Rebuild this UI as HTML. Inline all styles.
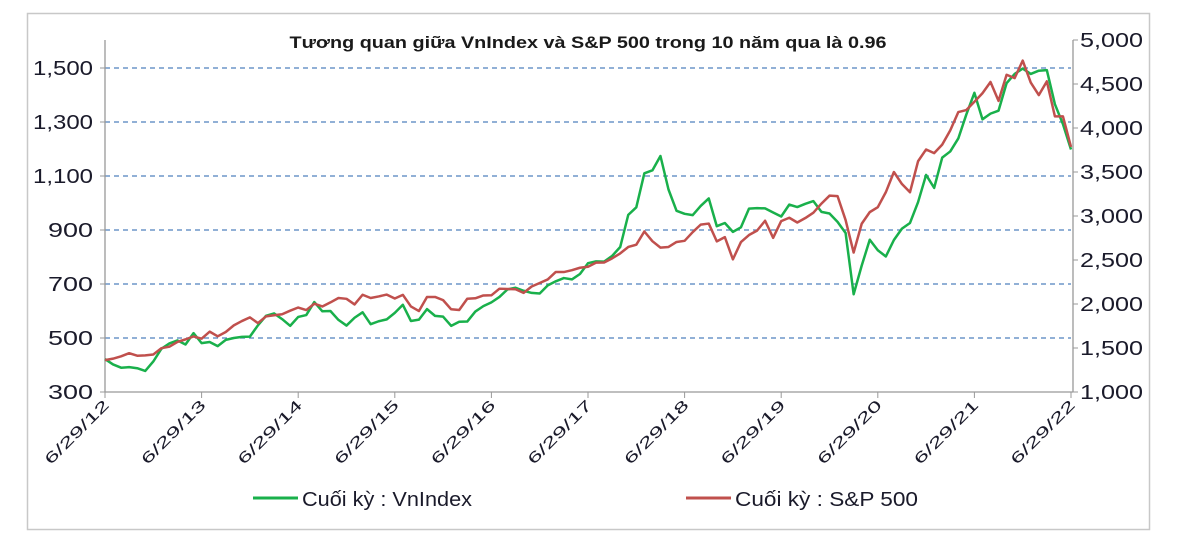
<!DOCTYPE html>
<html><head><meta charset="utf-8"><style>
body{margin:0;background:#fff;width:1200px;height:539px;overflow:hidden}
svg{display:block;font-family:"Liberation Sans",Arial,sans-serif}
</style></head><body>
<svg id="chart" width="1200" height="539" viewBox="0 0 1200 539">
<rect x="27.5" y="13.5" width="1122" height="516" fill="#fff" stroke="#c8c8c8" stroke-width="1.5"/>
<text x="588" y="48" text-anchor="middle" font-size="17" font-weight="bold" fill="#1a1a1a" textLength="597" lengthAdjust="spacingAndGlyphs">Tương quan giữa VnIndex và S&amp;P 500 trong 10 năm qua là 0.96</text>
<g id="grid"></g><g id="axes"></g><g id="series"></g>
<g>
<line x1="253" y1="498" x2="298" y2="498" stroke="#19b04b" stroke-width="3"/>
<text x="302" y="506" font-size="20" fill="#1a1a2a" textLength="170" lengthAdjust="spacingAndGlyphs">Cuối  kỳ : VnIndex</text>
<line x1="686" y1="498" x2="731" y2="498" stroke="#c0504d" stroke-width="3"/>
<text x="735" y="506" font-size="20" fill="#1a1a2a" textLength="183" lengthAdjust="spacingAndGlyphs">Cuối  kỳ : S&amp;P 500</text>
</g>
</svg>
<script>
const xLabels=["6/29/12","6/29/13","6/29/14","6/29/15","6/29/16","6/29/17","6/29/18","6/29/19","6/29/20","6/29/21","6/29/22"];
const leftTicks=[300,500,700,900,1100,1300,1500];
const rightTicks=[1000,1500,2000,2500,3000,3500,4000,4500,5000];
const vnindex=[422,402,390,392,388,378,413,
460,480,491,476,518,481,485,470,493,500,504,505,
547,582,591,570,545,578,585,633,599,600,567,546,
575,595,551,562,569,593,623,563,568,607,582,579,
545,560,561,598,618,632,652,680,686,675,667,665,
695,710,722,717,737,777,784,783,804,837,956,984,
1110,1121,1174,1050,971,960,955,989,1017,914,926,893,
910,979,981,980,965,950,994,985,997,1007,967,961,
930,889,662,768,864,825,802,863,905,926,1003,1104,
1056,1168,1191,1239,1328,1408,1310,1331,1342,1444,1478,1498,
1478,1490,1492,1366,1292,1198];
const sp500=[1362,1379,1406,1441,1412,1416,1426,
1498,1515,1569,1598,1631,1606,1686,1633,1682,1757,1806,1848,
1783,1859,1872,1884,1924,1960,1931,2003,1972,2018,2068,2059,
1995,2105,2068,2086,2107,2063,2104,1972,1920,2079,2080,2044,
1940,1932,2060,2065,2097,2099,2174,2171,2168,2126,2199,2239,
2279,2364,2363,2384,2412,2423,2470,2472,2519,2575,2648,2674,
2824,2714,2641,2648,2705,2718,2816,2902,2914,2712,2760,2507,
2704,2784,2834,2946,2752,2942,2980,2926,2977,3038,3141,3231,
3226,2954,2585,2912,3044,3100,3271,3500,3363,3270,3622,3756,
3714,3811,3973,4181,4204,4298,4395,4523,4308,4605,4567,4766,
4516,4374,4530,4132,4132,3785];
const NS="http://www.w3.org/2000/svg";
const X0=105,X1=1071,YB=392,YT=40;
const x=i=>X0+i/120*(X1-X0);
const yL=v=>YB-(v-300)*(YB-68)/1200;
const yR=v=>YB-(v-1000)*(YB-YT)/4000;
function mk(tag,attrs,parent){const e=document.createElementNS(NS,tag);for(const k in attrs)e.setAttribute(k,attrs[k]);parent.appendChild(e);return e;}
const grid=document.getElementById('grid'),axes=document.getElementById('axes'),ser=document.getElementById('series');
leftTicks.forEach(v=>{
  if(v>300){const g=mk('line',{x1:X0,x2:X1,y1:yL(v),y2:yL(v),stroke:'#4f81bd','stroke-width':1.3,'stroke-dasharray':'5,4'},grid);
  
  }
  const t=mk('line',{x1:X0-5,x2:X0,y1:yL(v),y2:yL(v),stroke:'#999'},axes);
  
  
  const s=v.toLocaleString('en-US');
  const l=mk('text',{x:93,y:yL(v)+7,'text-anchor':'end','font-size':20,fill:'#1a1a2a',textLength:s.length>3?60:45,lengthAdjust:'spacingAndGlyphs'},axes);
  
  
  l.textContent=s;
});
rightTicks.forEach(v=>{
  const t=mk('line',{x1:X1+2,x2:X1+7,y1:yR(v),y2:yR(v),stroke:'#999'},axes);
  
  
  const l=mk('text',{x:1080,y:yR(v)+7,'text-anchor':'start','font-size':20,fill:'#1a1a2a',textLength:63,lengthAdjust:'spacingAndGlyphs'},axes);
  
  
  l.textContent=v.toLocaleString('en-US');
});
xLabels.forEach((s,i)=>{
  const xx=x(i*12);
  const t=mk('line',{x1:xx,x2:xx,y1:YB,y2:YB+6,stroke:'#999'},axes);
  
  
  const l=mk('text',{x:xx+5,y:YB+14,'text-anchor':'end','font-size':15,fill:'#1a1a2a',textLength:84,lengthAdjust:'spacingAndGlyphs',transform:`rotate(-45 ${xx+5} ${YB+14})`},axes);
  
  
  l.textContent=s;
});
const la=mk('line',{x1:X0,x2:X0,y1:YT,y2:YB,stroke:'#999','stroke-width':1.3},axes);


const ra=mk('line',{x1:X1+2,x2:X1+2,y1:YT,y2:YB,stroke:'#999','stroke-width':1.3},axes);


const ba=mk('line',{x1:X0,x2:X1+2,y1:YB,y2:YB,stroke:'#999','stroke-width':1.3},axes);


const p1=mk('polyline',{points:vnindex.map((v,i)=>x(i)+','+yL(v)).join(' '),fill:'none',stroke:'#19b04b','stroke-width':2.5,'stroke-linejoin':'round'},ser);


const p2=mk('polyline',{points:sp500.map((v,i)=>x(i)+','+yR(v)).join(' '),fill:'none',stroke:'#c0504d','stroke-width':2.5,'stroke-linejoin':'round'},ser);


</script>
</body></html>
